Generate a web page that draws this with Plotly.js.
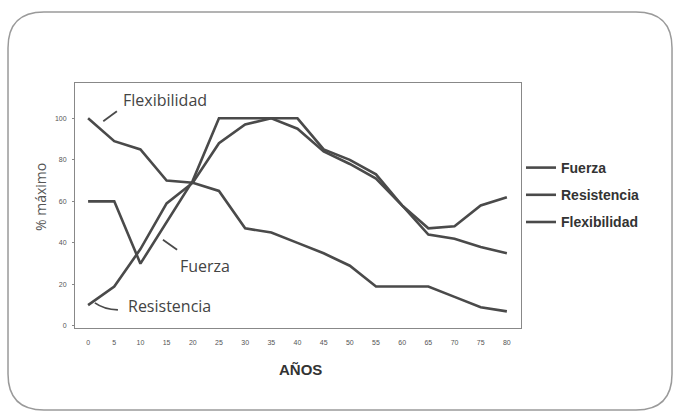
<!DOCTYPE html>
<html><head><meta charset="utf-8">
<script src="https://cdn.plot.ly/plotly-3.0.1.min.js"></script>
<style>html,body{margin:0;padding:0;background:#fff;}#chart{width:680px;height:416px;}</style>
</head><body><div id="chart"></div>
<script>
const years = [0,5,10,15,20,25,30,35,40,45,50,55,60,65,70,75,80];
const fuerza = [60,60,30,50,70,100,100,100,100,85,80,73,58,44,42,38,35];
const resistencia = [10,19,37,59,69,88,97,100,95,84,78,71,58,47,48,58,62];
const flexibilidad = [100,89,85,70,69,65,47,45,40,35,29,19,19,19,14,9,7];
const tickLabels = ['0','5','10','15','20','25','30','35','40','45','50','55','60','65','70','75','80'];
const seriesNames = ['Fuerza','Resistencia','Flexibilidad'];

const W=680,H=416, L=75, R=159, T=83, B=88;
const pw=W-L-R, ph=H-T-B;
function px(x){return (x-L)/pw;}
function py(y){return (H-B-y)/ph;}
function roundRect(x0,y0,x1,y1,r){
  const P=(x,y)=>px(x).toFixed(4)+','+py(y).toFixed(4);
  return 'M'+P(x0+r,y0)+' L'+P(x1-r,y0)+' Q'+P(x1,y0)+' '+P(x1,y0+r)+
    ' L'+P(x1,y1-r)+' Q'+P(x1,y1)+' '+P(x1-r,y1)+
    ' L'+P(x0+r,y1)+' Q'+P(x0,y1)+' '+P(x0,y1-r)+
    ' L'+P(x0,y0+r)+' Q'+P(x0,y0)+' '+P(x0+r,y0)+' Z';
}
const lc='#4a4a4a';
const mk=(name,y)=>({x:years,y:y,name:name,legendgroup:name,type:'scatter',mode:'lines',line:{color:lc,width:2.6},hoverinfo:'skip'});
const data=[mk(seriesNames[0],fuerza),mk(seriesNames[1],resistencia),mk(seriesNames[2],flexibilidad)];
const annFont={family:'Open Sans, sans-serif',size:16,color:'#444'};
const tf={family:'Liberation Sans, Arial',size:7,color:'#555555'};
const layout={
  width:W,height:H,margin:{l:L,r:R,t:T,b:B},
  paper_bgcolor:'#fff',plot_bgcolor:'#fff',
  showlegend:true,
  legend:{x:1.0,y:py(195),xanchor:'left',yanchor:'middle',font:{family:'Liberation Sans, Arial, sans-serif',size:14,color:'#333',weight:'bold'},itemwidth:30,tracegroupgap:6,bgcolor:'rgba(0,0,0,0)'},
  xaxis:{range:[-2.5,82.7],tickvals:years,ticktext:tickLabels,showgrid:false,zeroline:false,showline:true,linecolor:'#888',linewidth:1,mirror:true,ticks:'',ticklabelstandoff:8,tickfont:tf,fixedrange:true},
  yaxis:{range:[-1,117],tickvals:[0,20,40,60,80,100],showgrid:false,zeroline:false,showline:true,linecolor:'#888',linewidth:1,mirror:true,ticks:'outside',ticklen:2,tickcolor:'#888',ticklabelstandoff:4,tickfont:tf,fixedrange:true},
  shapes:[
    {type:'path',xref:'paper',yref:'paper',path:roundRect(8,12,672,410,36),line:{color:'#9a9a9a',width:1.5},fillcolor:'rgba(0,0,0,0)',layer:'below'},
    {type:'line',xref:'x',yref:'y',x0:2.9,y0:98.6,x1:5.5,y1:103.4,line:{color:lc,width:1.8}},
    {type:'line',xref:'x',yref:'y',x0:14.3,y0:41.5,x1:17,y1:36.7,line:{color:lc,width:1.8}},
    {type:'path',xref:'x',yref:'y',path:'M1.3,11.1 Q3,8 5.7,7.7',line:{color:lc,width:1.8}}
  ],
  annotations:[
    {xref:'x',yref:'y',x:14.7,y:109,text:'Flexibilidad',showarrow:false,font:annFont},
    {xref:'x',yref:'y',x:22.3,y:29,text:'Fuerza',showarrow:false,font:annFont},
    {xref:'x',yref:'y',x:15.6,y:9.7,text:'Resistencia',showarrow:false,font:annFont},
    {xref:'paper',yref:'paper',x:px(40),y:py(197),xanchor:'center',yanchor:'middle',text:'% máximo',textangle:-90,showarrow:false,font:{family:'Open Sans, sans-serif',size:14,color:'#555555'}},
    {xref:'paper',yref:'paper',x:px(300),y:py(369),xanchor:'center',yanchor:'middle',text:'<b>AÑOS</b>',showarrow:false,font:{family:'Liberation Sans, Arial',size:15,color:'#333'}}
  ]
};
Plotly.newPlot('chart',data,layout,{staticPlot:true,displayModeBar:false});
</script></body></html>
